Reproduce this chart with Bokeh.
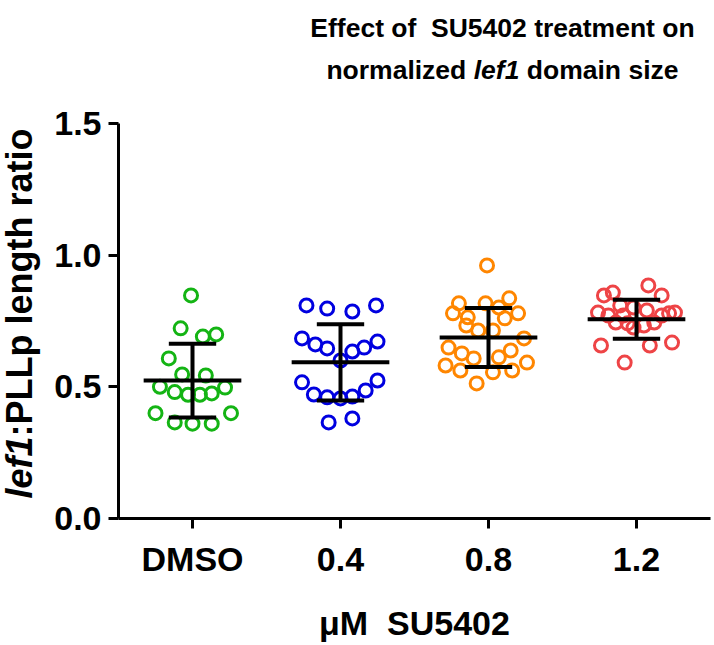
import numpy as np
from bokeh.plotting import figure
from bokeh.layouts import column, row
from bokeh.models import Range1d, FixedTicker, Label
from bokeh.embed import file_html
from bokeh.resources import INLINE

# ---------------- data ----------------
categories = ["DMSO", "0.4", "0.8", "1.2"]
colors = ["#14B414", "#0000E0", "#FF8600", "#EE4446"]

dmso_vals = [0.847, 0.722, 0.691, 0.699, 0.608, 0.547, 0.543, 0.500, 0.480, 0.470,
             0.470, 0.475, 0.497, 0.400, 0.400, 0.365, 0.360, 0.360]
dmso_dx = [-0.01, -0.08, 0.07, 0.16, -0.16, -0.07, 0.09, -0.22, -0.12, -0.03,
           0.05, 0.13, 0.22, -0.25, 0.26, -0.12, 0.00, 0.13]

su04_vals = [0.809, 0.797, 0.786, 0.809, 0.684, 0.661, 0.646, 0.600, 0.634, 0.649,
             0.672, 0.517, 0.471, 0.460, 0.456, 0.463, 0.486, 0.524, 0.365, 0.380]
su04_dx = [-0.23, -0.09, 0.08, 0.24, -0.26, -0.17, -0.09, 0.00, 0.08, 0.16,
           0.25, -0.26, -0.18, -0.09, 0.00, 0.08, 0.17, 0.25, -0.08, 0.08]

su08_vals = [0.961, 0.817, 0.817, 0.836, 0.801, 0.779, 0.764, 0.760, 0.779, 0.733,
             0.714, 0.714, 0.649, 0.684, 0.627, 0.608, 0.612, 0.638, 0.581, 0.562,
             0.555, 0.562, 0.592, 0.513]
su08_dx = [-0.01, -0.20, -0.02, 0.14, 0.07, -0.24, -0.14, 0.11, 0.20, -0.15,
           -0.07, 0.03, -0.27, 0.24, -0.18, -0.10, 0.07, 0.15, -0.29, -0.19,
           0.03, 0.16, 0.26, -0.08]

su12_vals = [0.885, 0.858, 0.847, 0.847, 0.809, 0.801, 0.790, 0.782, 0.782, 0.771,
             0.771, 0.771, 0.779, 0.741, 0.733, 0.744, 0.744, 0.725, 0.657, 0.657,
             0.668, 0.592]
su12_dx = [0.08, -0.16, -0.22, 0.17, -0.11, -0.02, 0.07, 0.26, -0.26, -0.19,
           -0.09, 0.17, 0.22, -0.06, 0.05, 0.12, -0.14, -0.02, -0.24, 0.09,
           0.24, -0.08]

means = [0.524, 0.593, 0.687, 0.757]
sds = [0.140, 0.145, 0.112, 0.074]

y_ticks = [0.0, 0.5, 1.0, 1.5]

groups = [(dmso_vals, dmso_dx), (su04_vals, su04_dx), (su08_vals, su08_dx), (su12_vals, su12_dx)]
positions = [1, 2, 3, 4]

TOTAL_W, TOTAL_H = 714, 645
TITLE_H = 100
STRIP_W = 44
PLOT_H = TOTAL_H - TITLE_H
FRAME_TOP, FRAME_BOTTOM = 123, 518

AX_FONT = "Liberation Sans"


def blank(w, h, xr, yr):
    fig = figure(width=w, height=h, output_backend="svg", toolbar_location=None,
                 x_range=xr, y_range=yr, x_axis_type=None, y_axis_type=None,
                 title=None, min_border=0)
    fig.outline_line_color = None
    fig.grid.visible = False
    fig.background_fill_color = "white"
    fig.border_fill_color = "white"
    return fig


# ---------------- title strip ----------------
t = blank(TOTAL_W, TITLE_H, Range1d(0, TOTAL_W), Range1d(TITLE_H, 0))
TS = 26.5
tx = 502
common = dict(text_baseline="middle", text_font=AX_FONT,
              text_font_size=f"{TS}px", text_color="black")
t.add_layout(Label(x=tx, y=27, text="Effect of\u00a0 SU5402 treatment on",
                   text_align="center", text_font_style="bold", **common))
ty2 = 69
t.add_layout(Label(x=tx, y=ty2, x_offset=-36.2, text="normalized",
                   text_align="right", text_font_style="bold", **common))
t.add_layout(Label(x=tx, y=ty2, x_offset=-28.8, text="lef1",
                   text_align="left", text_font_style="bold italic", **common))
t.add_layout(Label(x=tx, y=ty2, x_offset=24.3, text="domain size",
                   text_align="left", text_font_style="bold", **common))

# ---------------- y-label strip (its frame lines up with the main plot frame) ----------------
s = blank(STRIP_W, PLOT_H, Range1d(0, STRIP_W), Range1d(FRAME_BOTTOM, FRAME_TOP))
YF = 36
ycommon = dict(angle=np.pi / 2, text_baseline="middle", text_align="center",
               text_font=AX_FONT, text_font_size=f"{YF}px", text_color="black")
s.add_layout(Label(x=19, y=467, text="lef1", text_font_style="bold italic", **ycommon))
s.add_layout(Label(x=19, y=282, text=":PLLp length ratio", text_font_style="bold", **ycommon))

# ---------------- main plot ----------------
p = figure(width=TOTAL_W - STRIP_W, height=PLOT_H, output_backend="svg", toolbar_location=None,
           x_range=Range1d(0.5, 4.5), y_range=Range1d(0, 1.5), title=None,
           min_border_left=118 - STRIP_W, min_border_right=4,
           min_border_top=FRAME_TOP - TITLE_H, min_border_bottom=TOTAL_H - FRAME_BOTTOM)
p.outline_line_color = None
p.grid.visible = False
p.background_fill_color = "white"
p.border_fill_color = "white"

for (vals, dx), pos, col in zip(groups, positions, colors):
    xs = [pos + d for d in dx]
    p.scatter(xs, vals, size=13, marker="circle", fill_color=None,
              line_color=col, line_width=3)

pos = np.array(positions, dtype=float)
m = np.array(means)
sd = np.array(sds)
p.segment(x0=pos - 0.33, x1=pos + 0.33, y0=m, y1=m, line_color="black", line_width=4)
p.segment(x0=pos, x1=pos, y0=m - sd, y1=m + sd, line_color="black", line_width=4)
p.segment(x0=pos - 0.16, x1=pos + 0.16, y0=m + sd, y1=m + sd, line_color="black", line_width=4)
p.segment(x0=pos - 0.16, x1=pos + 0.16, y0=m - sd, y1=m - sd, line_color="black", line_width=4)

for ax in (p.xaxis[0], p.yaxis[0]):
    ax.axis_line_width = 3
    ax.major_tick_line_width = 3
    ax.major_tick_out = 10
    ax.major_tick_in = 0
    ax.minor_tick_line_color = None
    ax.major_label_text_font = AX_FONT
    ax.major_label_text_font_style = "bold"
    ax.major_label_text_font_size = "34px"
    ax.major_label_text_color = "black"
    ax.axis_line_color = "black"
    ax.major_tick_line_color = "black"

p.xaxis.ticker = FixedTicker(ticks=positions)
p.xaxis.major_label_overrides = {pp: c for pp, c in zip(positions, categories)}
p.xaxis.major_label_standoff = 11
p.xaxis.axis_label = "\u03bcM\u00a0 SU5402"
p.xaxis.axis_label_text_font = AX_FONT
p.xaxis.axis_label_text_font_style = "bold"
p.xaxis.axis_label_text_font_size = "34px"
p.xaxis.axis_label_text_color = "black"
p.xaxis.axis_label_standoff = 23

p.yaxis.ticker = FixedTicker(ticks=y_ticks)
p.yaxis.major_label_overrides = {tk: f"{tk:.1f}" for tk in y_ticks}
p.yaxis.major_label_standoff = 7

layout = column(t, row(s, p, spacing=0), spacing=0)

open("out.html", "w").write(file_html(layout, INLINE))
